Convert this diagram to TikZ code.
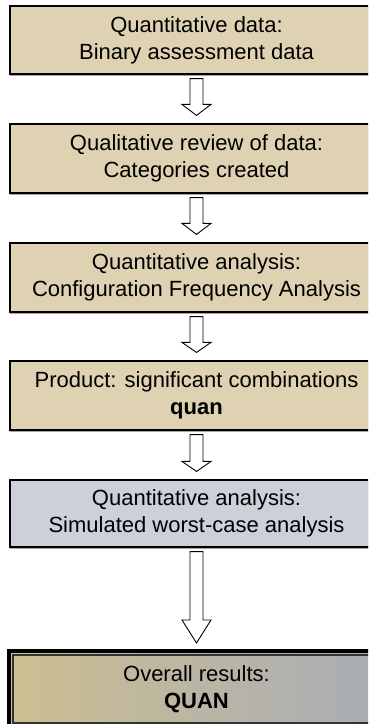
\documentclass[tikz,border=0pt]{standalone}
\usepackage{fontspec}
\setmainfont{Liberation Sans}
\usetikzlibrary{calc,shadows,positioning}

\definecolor{tanfill}{RGB}{222,210,178}
\definecolor{greyfill}{RGB}{205,208,216}
\definecolor{resleft}{RGB}{205,191,145}
\definecolor{resright}{RGB}{168,172,182}

\tikzset{
  stage/.style={draw=black, line width=1.2pt, fill=tanfill, minimum width=373pt,
    minimum height=68pt, align=center, inner sep=0pt,
    font=\fontsize{22}{27}\selectfont,
    drop shadow={shadow xshift=0pt, shadow yshift=-2pt, fill=black!35, opacity=1}},
  hollowarrow/.style={draw=black, line width=0.9pt, fill=white, line join=miter},
}

% hollow block arrow from one box down to the next
\newcommand{\blockdown}[3]{%
  \draw[hollowarrow] let \p1=([yshift=-4pt]#1.south), \p2=([yshift=8pt]#2.north) in
    (\x1-6.5pt,\y1) -- (\x1+6.5pt,\y1) -- (\x1+6.5pt,\y2+#3) -- (\x1+14.5pt,\y2+#3)
    -- (\x1,\y2) -- (\x1-14.5pt,\y2+#3) -- (\x1-6.5pt,\y2+#3) -- cycle;}

\begin{document}
\begin{tikzpicture}[x=1pt,y=-1pt]
    \useasboundingbox (0,0) rectangle (368,724);
    \clip (0,0) rectangle (368,724);

    % Stages
    \node[stage] (data) at (196.5,40) {Quantitative data:\\Binary assessment data};
    \node[stage, minimum height=69pt] (review) at (196.5,158.5) {Qualitative review of data:\\Categories created};
    \node[stage, minimum height=69pt] (cfa) at (196.5,277.5) {Quantitative analysis:\\Configuration Frequency Analysis};
    \node[stage, minimum height=69pt] (product) at (196.5,395.5) {Product: significant combinations\\\textbf{quan}};
    \node[stage, fill=greyfill, minimum height=67pt] (worst) at (196.5,513.5) {Quantitative analysis:\\Simulated worst-case analysis};

    % Overall results
    \node[draw=black, line width=3.5pt, outer sep=0pt, left color=resleft, right color=resright,
      minimum width=375pt, minimum height=76pt, align=center, inner sep=0pt,
      font=\fontsize{22}{27}\selectfont] (res) at (196.5,689) {Overall results:\\\textbf{QUAN}};
    \draw[line width=1.3pt, draw=black!80] ([shift={(4.1pt,-4.1pt)}]res.north west)
      rectangle ([shift={(-4.1pt,4.1pt)}]res.south east);

    % Arrows
    \blockdown{data}{review}{11pt}
    \blockdown{review}{cfa}{11pt}
    \blockdown{cfa}{product}{10pt}
    \blockdown{product}{worst}{10pt}
    \blockdown{worst}{res}{23pt}
\end{tikzpicture}
\end{document}
